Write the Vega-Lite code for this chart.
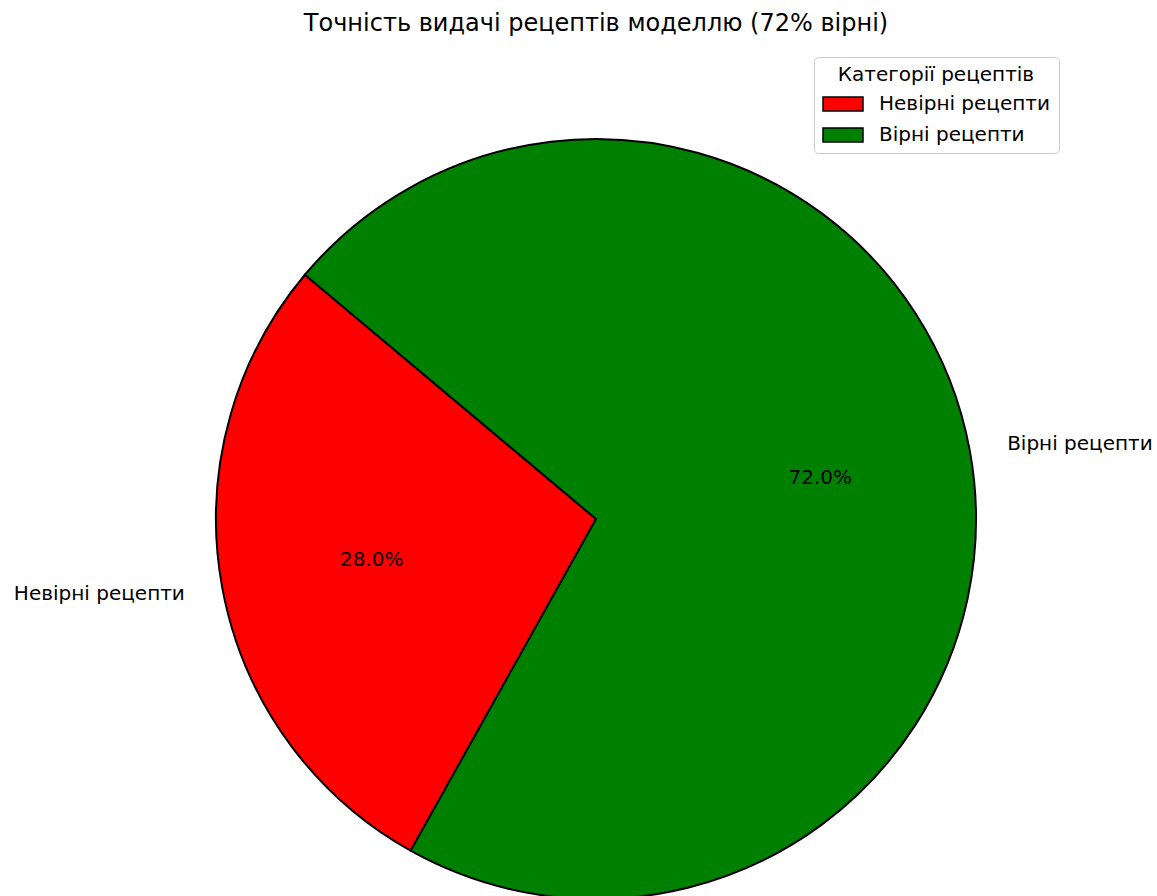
{
  "$schema": "https://vega.github.io/schema/vega-lite/v6.json",
  "width": 760,
  "height": 760,
  "autosize": {"type": "none"},
  "padding": {"left": 216, "top": 139, "right": 181, "bottom": 0},
  "background": "white",
  "config": {"view": {"stroke": null}, "font": "DejaVu Sans"},
  "title": {"text": "Точність видачі рецептів моделлю (72% вірні)", "fontSize": 24, "fontWeight": "normal", "font": "DejaVu Sans", "color": "black", "anchor": "middle", "offset": 21},
  "data": {"values": [
    {"cat": "Невірні рецепти", "value": 0.28},
    {"cat": "Вірні рецепти", "value": 0.72}
  ]},
  "encoding": {
    "theta": {"field": "value", "type": "quantitative", "stack": true, "scale": {"range": [5.4105, 11.6937]}},
    "order": {"field": "cat", "type": "nominal", "sort": "ascending"}
  },
  "layer": [
    {
      "mark": {"type": "arc", "stroke": "black", "strokeWidth": 2, "outerRadius": 380},
      "encoding": {
        "color": {"field": "cat", "type": "nominal",
          "scale": {"domain": ["Невірні рецепти", "Вірні рецепти"], "range": ["#ff0000", "#008000"]},
          "legend": {
            "title": "Категорії рецептів", "orient": "none", "legendX": 598, "legendY": -82,
            "titleFontSize": 20, "titleFontWeight": "normal", "titleColor": "black", "titleFont": "DejaVu Sans",
            "titleAnchor": "middle", "titlePadding": 8, "titleLimit": 400,
            "labelFontSize": 20, "labelColor": "black", "labelFont": "DejaVu Sans", "labelOffset": 25, "labelLimit": 400,
            "symbolType": "M-2,-0.7L2,-0.7L2,0.7L-2,0.7Z", "symbolSize": 400, "symbolOffset": 10,
            "symbolStrokeColor": "black", "symbolStrokeWidth": 1.5, "symbolOpacity": 1, "symbolFillOpacity": 1,
            "rowPadding": 10, "padding": 8, "strokeColor": "#cccccc", "fillColor": "white", "cornerRadius": 4
          }
        }
      }
    },
    {
      "mark": {"type": "text", "radius": 228, "fontSize": 20, "font": "DejaVu Sans", "color": "black"},
      "encoding": {"text": {"field": "value", "type": "quantitative", "format": ".1%"}, "detail": {"field": "cat"}}
    },
    {
      "mark": {"type": "text", "radius": 418, "fontSize": 20, "font": "DejaVu Sans", "color": "black", "align": "left"},
      "encoding": {"text": {"condition": {"test": "datum.cat === 'Вірні рецепти'", "field": "cat"}, "value": ""}, "detail": {"field": "cat"}}
    },
    {
      "mark": {"type": "text", "radius": 418, "fontSize": 20, "font": "DejaVu Sans", "color": "black", "align": "right"},
      "encoding": {"text": {"condition": {"test": "datum.cat === 'Невірні рецепти'", "field": "cat"}, "value": ""}, "detail": {"field": "cat"}}
    }
  ]
}
